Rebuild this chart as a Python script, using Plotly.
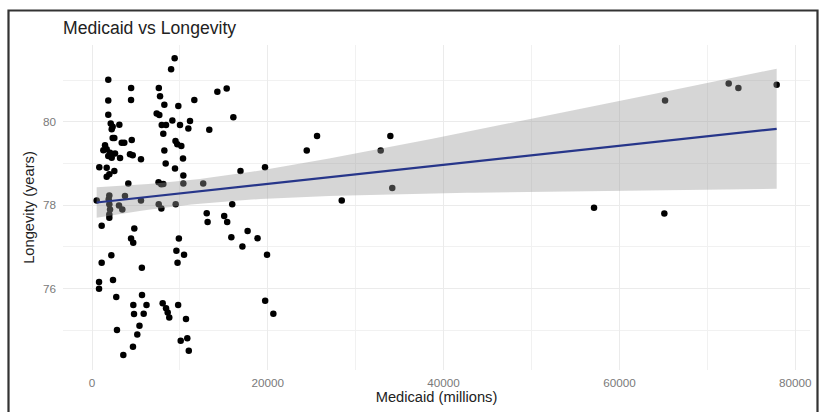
import numpy as np
import plotly.graph_objects as go

# Medicaid spending (millions) and longevity (years)
medicaid = [
    9400, 9000, 1850, 4450, 7600, 7740, 1850, 4440, 8230, 9820,
    11640, 14260, 15320, 1850, 7360, 7660, 9140, 2130, 2350, 2240,
    3110, 7930, 8420, 10010, 11150, 10960, 8110, 13340, 16080, 2350,
    2540, 3380, 3670, 4520, 9500, 9700, 10160, 1480, 1290, 1670,
    8230, 2050, 1850, 2240, 2620, 3190, 4320, 4630, 5570, 10350,
    830, 1670, 8380, 9440, 2540, 1670, 1970, 10390, 16890, 19680,
    4130, 7570, 7880, 8110, 10390, 12650, 530, 1970, 1900, 3750,
    5570, 1970, 2050, 1970, 1970, 3070, 3450, 7590, 7890, 9520,
    13050, 13150, 15950, 15040, 15380, 1100, 4810, 4440, 4690, 9880,
    15850, 17700, 18830, 17110, 19910, 9600, 10470, 2200, 1100, 9730,
    5670, 800, 800, 2390, 2760, 5690, 4700, 6200, 4780, 5880,
    8040, 8420, 8610, 8790, 9800, 10690, 5400, 2840, 5150, 10090,
    10840, 4660, 11010, 3560, 19700, 20630, 25600, 24430, 33940, 32840,
    34160, 28410, 57110, 65110, 65190, 72430, 73530, 77890,
]
longevity = [
    81.52, 81.26, 81.01, 80.81, 80.81, 80.61, 80.51, 80.52, 80.41, 80.38,
    80.52, 80.72, 80.80, 80.17, 80.20, 80.16, 80.03, 79.96, 79.88, 79.82,
    79.93, 79.92, 79.92, 79.92, 80.02, 79.84, 79.71, 79.81, 80.11, 79.61,
    79.61, 79.50, 79.50, 79.56, 79.54, 79.46, 79.42, 79.44, 79.32, 79.34,
    79.31, 79.26, 79.18, 79.14, 79.24, 79.13, 79.22, 79.20, 79.10, 79.12,
    78.91, 78.90, 79.00, 78.88, 78.82, 78.68, 78.74, 78.71, 78.82, 78.91,
    78.52, 78.55, 78.50, 78.51, 78.52, 78.52, 78.11, 78.23, 78.14, 78.22,
    78.11, 78.02, 77.90, 77.78, 77.70, 77.99, 77.90, 78.02, 77.92, 78.02,
    77.81, 77.60, 78.02, 77.74, 77.60, 77.51, 77.44, 77.20, 77.10, 77.20,
    77.23, 77.38, 77.21, 77.01, 76.81, 76.91, 76.81, 76.80, 76.62, 76.62,
    76.50, 76.16, 76.00, 76.21, 75.80, 75.85, 75.61, 75.61, 75.39, 75.40,
    75.65, 75.53, 75.43, 75.31, 75.61, 75.27, 75.11, 75.01, 74.90, 74.75,
    74.81, 74.61, 74.51, 74.41, 75.71, 75.40, 79.66, 79.31, 79.66, 79.31,
    78.41, 78.11, 77.94, 77.80, 80.51, 80.92, 80.81, 80.89,
]

x_ticks = [0, 20000, 40000, 60000, 80000]
y_ticks = [76, 78, 80]

TITLE = "Medicaid vs Longevity"
X_TITLE = "Medicaid (millions)"
Y_TITLE = "Longevity (years)"

# Linear fit with 95% confidence band (like geom_smooth(method="lm"))
x = np.array(medicaid, dtype=float)
y = np.array(longevity, dtype=float)
n = len(x)
slope, intercept = np.polyfit(x, y, 1)
resid = y - (intercept + slope * x)
mse = np.sum(resid ** 2) / (n - 2)
xbar = x.mean()
sxx = np.sum((x - xbar) ** 2)
t_crit = 1.977
xs = np.linspace(x.min(), x.max(), 80)
fit = intercept + slope * xs
se = np.sqrt(mse * (1.0 / n + (xs - xbar) ** 2 / sxx))
upper = fit + t_crit * se
lower = fit - t_crit * se

FONT = "Liberation Sans, Arial, Helvetica, sans-serif"

fig = go.Figure()
fig.add_trace(go.Scatter(
    x=medicaid, y=longevity, mode="markers",
    marker=dict(size=6.5, color="black", line=dict(width=0)),
    hoverinfo="x+y", showlegend=False,
))
fig.add_trace(go.Scatter(
    x=np.concatenate([xs, xs[::-1]]), y=np.concatenate([upper, lower[::-1]]),
    fill="toself", fillcolor="rgba(153,153,153,0.4)", line=dict(width=0),
    mode="lines", hoverinfo="skip", showlegend=False,
))
fig.add_trace(go.Scatter(
    x=xs, y=fit, mode="lines", line=dict(color="#27368a", width=2.2),
    hoverinfo="skip", showlegend=False,
))

W, H = 826, 412
L, R, T, B = 63, 16, 45, 42
pw, ph = W - L - R, H - T - B

def px_to_paper_x(px):
    return (px - L) / pw

def px_to_paper_y(py):
    return (H - B - py) / ph

fig.add_shape(
    type="rect", xref="paper", yref="paper",
    x0=px_to_paper_x(8.5), x1=px_to_paper_x(817.5),
    y0=px_to_paper_y(430), y1=px_to_paper_y(10.5),
    line=dict(color="#333333", width=2.2), fillcolor="rgba(0,0,0,0)", layer="above",
)

fig.update_layout(
    width=W, height=H,
    margin=dict(l=L, r=R, t=T, b=B),
    paper_bgcolor="white", plot_bgcolor="white",
    font=dict(family=FONT, color="#222222"),
    title=dict(text=TITLE, x=L / W, xref="container", xanchor="left",
               y=1 - 27.5 / H, yref="container", yanchor="middle",
               font=dict(size=17.6, color="#222222", family=FONT)),
)
fig.update_xaxes(
    range=[-3300, 81680], tickmode="array", tickvals=x_ticks,
    ticktext=[str(v) for v in x_ticks],
    showgrid=True, gridcolor="#ebebeb", gridwidth=1.2,
    minor=dict(tickmode="array", tickvals=[10000, 30000, 50000, 70000],
               showgrid=True, gridcolor="#f1f1f1", gridwidth=0.8),
    zeroline=False, showline=False, ticks="",
    tickfont=dict(size=11.7, color="#7a7a7a", family=FONT),
    ticklabelstandoff=4,
    title=dict(text=X_TITLE, font=dict(size=14.7, color="#222222", family=FONT), standoff=3),
    automargin=False,
)
fig.update_yaxes(
    range=[74.05, 81.84], tickmode="array", tickvals=y_ticks,
    ticktext=[str(v) for v in y_ticks],
    showgrid=True, gridcolor="#ebebeb", gridwidth=1.2,
    minor=dict(tickmode="array", tickvals=[75, 77, 79, 81],
               showgrid=True, gridcolor="#f1f1f1", gridwidth=0.8),
    zeroline=False, showline=False, ticks="",
    tickfont=dict(size=11.7, color="#7a7a7a", family=FONT),
    ticklabelstandoff=6,
    title=dict(text=Y_TITLE, font=dict(size=14.7, color="#222222", family=FONT), standoff=4),
    automargin=False,
)

fig.write_html("out.html")
